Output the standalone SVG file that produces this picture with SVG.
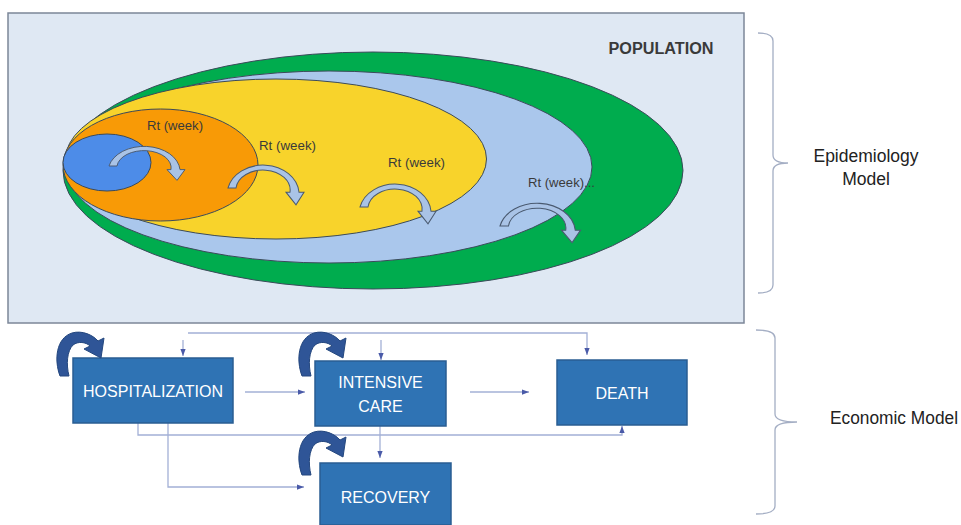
<svg xmlns="http://www.w3.org/2000/svg" xmlns:xlink="http://www.w3.org/1999/xlink" width="961" height="525" viewBox="0 0 961 525">
<defs>
<style>
.ell{stroke:#3b4a5a;stroke-width:1}
.rt{font-family:"Liberation Sans",Arial,sans-serif;font-size:13.5px;fill:#3a3a3a}
.rtarrow{fill:#a9c3e6;stroke:#4a5a70;stroke-width:1}
.box{fill:#2f73b4;stroke:#2a5d92;stroke-width:1.5}
.btxt{font-family:"Liberation Sans",Arial,sans-serif;font-size:16px;fill:#ffffff;text-anchor:middle}
.loop{fill:#2f5597;stroke:#24477e;stroke-width:1}
.conn{fill:none;stroke:#a3b0d6;stroke-width:1.3}
.brace{fill:none;stroke:#a4aec4;stroke-width:1.3}
.side{font-family:"Liberation Sans",Arial,sans-serif;font-size:17.5px;fill:#222222;text-anchor:middle}
</style>
<path id="rtShape" d="M0,0 A36,28 0 0 1 71,4 L76,4 L68,16 L58,4 L62,4 A27,19 0 0 0 8,0 Z"/>
<path id="loopShape" d="M60,376 C54,360 56,338 72,333 C82,330 93,335 98,341 L104,338 L101,358 L84,349 L90,346 C86,342 78,341 73,345 C67,351 66,364 69,376 Z"/>
<marker id="ah" viewBox="0 0 8 6" refX="8" refY="3" markerWidth="7" markerHeight="5.5" markerUnits="userSpaceOnUse" orient="auto">
<path d="M0,0 L8,3 L0,6 Z" fill="#4a5aa8"/>
</marker>
</defs>

<rect width="961" height="525" fill="#ffffff"/>

<g id="population">
<rect x="8" y="13" width="736" height="310" fill="#dfe8f3" stroke="#7c8798" stroke-width="1.5"/>
<text x="661" y="54" text-anchor="middle" font-family="'Liberation Sans',Arial,sans-serif" font-size="16" font-weight="bold" fill="#3a3a3a" textLength="105" lengthAdjust="spacingAndGlyphs">POPULATION</text>
</g>

<g id="ellipses">
<ellipse id="e-green" class="ell" cx="373" cy="170.5" rx="310" ry="118.5" fill="#00ac4e"/>
<ellipse id="e-lightblue" class="ell" cx="329" cy="167" rx="263" ry="96" fill="#aac7ec"/>
<ellipse id="e-yellow" class="ell" cx="276" cy="159" rx="210.5" ry="80" fill="#f8d32b"/>
<ellipse id="e-orange" class="ell" cx="160.5" cy="165" rx="97.5" ry="56" fill="#f89a06"/>
<ellipse id="e-blue" class="ell" cx="107" cy="162.5" rx="44" ry="28.5" fill="#4d8ce8"/>
</g>

<g id="rt-arrows">
<use xlink:href="#rtShape" class="rtarrow" transform="translate(109,166) scale(1,0.9)"/>
<use xlink:href="#rtShape" class="rtarrow" transform="translate(228,188) scale(1,1.05)"/>
<use xlink:href="#rtShape" class="rtarrow" transform="translate(360,207) scale(1,1.05)"/>
<use xlink:href="#rtShape" class="rtarrow" transform="translate(500,226) scale(1.06,1.04)"/>
</g>

<g id="rt-labels">
<text class="rt" x="147" y="130" textLength="56" lengthAdjust="spacingAndGlyphs">Rt (week)</text>
<text class="rt" x="259" y="150" textLength="57" lengthAdjust="spacingAndGlyphs">Rt (week)</text>
<text class="rt" x="388" y="167" textLength="57" lengthAdjust="spacingAndGlyphs">Rt (week)</text>
<text class="rt" x="528" y="187" fill="#3d4b5c" textLength="67" lengthAdjust="spacingAndGlyphs">Rt (week)...</text>
</g>

<g id="brace-epi">
<path class="brace" d="M758,33 Q773,33 773,41 V155 Q773,163 788,163 Q773,163 773,171 V285 Q773,293 758,293"/>
<text class="side" x="866" y="162">Epidemiology</text>
<text class="side" x="866" y="185">Model</text>
</g>

<g id="brace-eco">
<path class="brace" d="M756,330 Q775,330 775,338 V414 Q775,422 797,422 Q775,422 775,430 V506 Q775,514 756,514"/>
<text x="830" y="424" font-family="'Liberation Sans',Arial,sans-serif" font-size="17.5" fill="#222222" textLength="128" lengthAdjust="spacingAndGlyphs">Economic Model</text>
</g>

<g id="connectors">
<path class="conn" d="M188,333 H587 V355" marker-end="url(#ah)"/>
<path class="conn" d="M183,340 V356" marker-end="url(#ah)"/>
<path class="conn" d="M381,340 V360" marker-end="url(#ah)"/>
<path class="conn" d="M245,392 H305" marker-end="url(#ah)"/>
<path class="conn" d="M470,392 H529" marker-end="url(#ah)"/>
<path class="conn" d="M138,423 V435 H622 V426" marker-end="url(#ah)"/>
<path class="conn" d="M168,423 V487 H304" marker-end="url(#ah)"/>
<path class="conn" d="M380,426 V458" marker-end="url(#ah)"/>
</g>

<g id="hospitalization">
<rect class="box" x="73" y="358" width="160" height="65"/>
<text class="btxt" x="153" y="397" textLength="140" lengthAdjust="spacingAndGlyphs">HOSPITALIZATION</text>
<use xlink:href="#loopShape" class="loop"/>
</g>

<g id="intensive-care">
<rect class="box" x="315" y="361" width="131" height="65"/>
<text class="btxt" x="380.5" y="388">INTENSIVE</text>
<text class="btxt" x="380.5" y="412">CARE</text>
<use xlink:href="#loopShape" class="loop" transform="translate(242,0)"/>
</g>

<g id="death">
<rect class="box" x="557" y="360" width="130" height="65"/>
<text class="btxt" x="622" y="399">DEATH</text>
</g>

<g id="recovery">
<rect class="box" x="320" y="463" width="131" height="62"/>
<text class="btxt" x="385.5" y="503">RECOVERY</text>
<use xlink:href="#loopShape" class="loop" transform="translate(242,99)"/>
</g>
</svg>
